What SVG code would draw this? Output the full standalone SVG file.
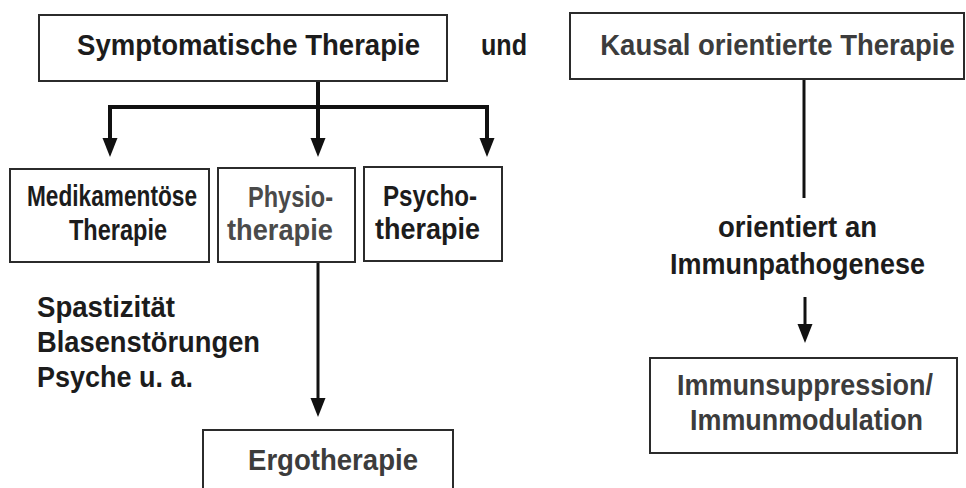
<svg xmlns="http://www.w3.org/2000/svg" width="966" height="488" viewBox="0 0 966 488">
<style>
  .box { fill: #ffffff; stroke: #2b2b2b; stroke-width: 2; }
  .t { font-family: "Liberation Sans", Arial, sans-serif; font-weight: bold; font-size: 30px; fill: #1c1c1c; }
  .g { fill: #3c3c3c; }
  .lg { fill: #4a4a4a; }
  .c { text-anchor: middle; }
  .ln { stroke: #111111; stroke-width: 4; fill: none; }
  .ln3 { stroke: #111111; stroke-width: 3; fill: none; }
  .ah { fill: #111111; }
</style>
<defs>
  <path id="ah" d="M-7.5,-19 L7.5,-19 L0,0 Z"/>
</defs>
<rect width="966" height="488" fill="#ffffff"/>

<g id="connectors">
  <path class="ln" d="M318,81 V108 M110,107 H487 M110,105 V140 M318,107 V140 M487,105 V140"/>
  <use href="#ah" class="ah" transform="translate(110,157)"/>
  <use href="#ah" class="ah" transform="translate(318,157)"/>
  <use href="#ah" class="ah" transform="translate(487,157)"/>
  <path class="ln3" d="M318,262 V400"/>
  <use href="#ah" class="ah" transform="translate(318,417)"/>
  <path class="ln3" d="M804,79 V198"/>
  <path class="ln3" d="M805,297 V326"/>
  <use href="#ah" class="ah" transform="translate(805,343)"/>
</g>

<g id="symptomatisch">
  <rect class="box" x="39" y="15" width="408" height="66"/>
  <text class="t c" x="248.5" y="55" font-size="31" textLength="343" lengthAdjust="spacingAndGlyphs">Symptomatische Therapie</text>
</g>

<g id="und">
  <text class="t c" x="504" y="55" font-size="31" textLength="46" lengthAdjust="spacingAndGlyphs">und</text>
</g>

<g id="kausal">
  <rect class="box" x="570" y="13" width="394" height="66"/>
  <text class="t c g" transform="translate(777.5,55) scale(0.917,1)" x="0" y="0" font-size="31">Kausal orientierte Therapie</text>
</g>

<g id="medikamentoes">
  <rect class="box" x="10" y="169" width="199" height="93"/>
  <text class="t c" x="112" y="206" font-size="31" textLength="170" lengthAdjust="spacingAndGlyphs">Medikamentöse</text>
  <text class="t c" x="118" y="240" font-size="31" textLength="98" lengthAdjust="spacingAndGlyphs">Therapie</text>
</g>

<g id="physio">
  <rect class="box" x="218" y="168" width="137" height="94"/>
  <text class="t c lg" x="290.5" y="207" font-size="31" textLength="85" lengthAdjust="spacingAndGlyphs">Physio-</text>
  <text class="t c lg" x="280" y="240" font-size="31" textLength="106" lengthAdjust="spacingAndGlyphs">therapie</text>
</g>

<g id="psycho">
  <rect class="box" x="364" y="167" width="138" height="94"/>
  <text class="t c" x="430" y="206" font-size="31" textLength="94" lengthAdjust="spacingAndGlyphs">Psycho-</text>
  <text class="t c" x="427.5" y="239" font-size="31" textLength="105" lengthAdjust="spacingAndGlyphs">therapie</text>
</g>

<g id="symptome">
  <text class="t" x="37" y="317" textLength="138" lengthAdjust="spacingAndGlyphs">Spastizität</text>
  <text class="t" x="37" y="352" textLength="223" lengthAdjust="spacingAndGlyphs">Blasenstörungen</text>
  <text class="t" x="37" y="387" textLength="156" lengthAdjust="spacingAndGlyphs">Psyche u. a.</text>
</g>

<g id="ergo">
  <rect class="box" x="203" y="430" width="250" height="70"/>
  <text class="t c g" x="333" y="470" textLength="170" lengthAdjust="spacingAndGlyphs">Ergotherapie</text>
</g>

<g id="orientiert">
  <text class="t c" x="797.5" y="237" font-size="32" textLength="159" lengthAdjust="spacingAndGlyphs">orientiert an</text>
  <text class="t c" x="797.5" y="274" font-size="32" textLength="255" lengthAdjust="spacingAndGlyphs">Immunpathogenese</text>
</g>

<g id="immun">
  <rect class="box" x="650" y="358" width="307" height="95"/>
  <text class="t c g" x="805" y="395" textLength="256" lengthAdjust="spacingAndGlyphs">Immunsuppression/</text>
  <text class="t c g" x="806.5" y="430" textLength="233" lengthAdjust="spacingAndGlyphs">Immunmodulation</text>
</g>
</svg>
